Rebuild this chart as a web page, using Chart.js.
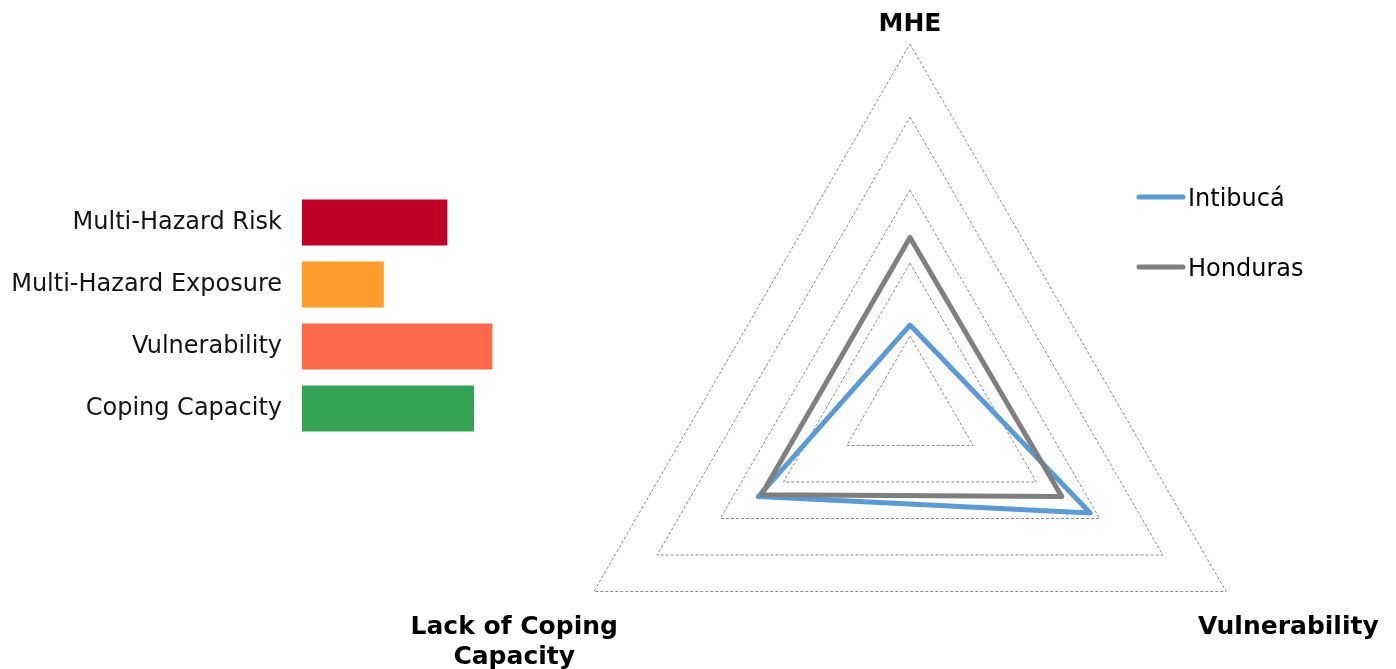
<!DOCTYPE html>
<html>
<head>
<meta charset="utf-8">
<title>Intibucá - perfil de riesgo</title>
<script src="https://cdn.jsdelivr.net/npm/chart.js@4.4.0/dist/chart.umd.min.js"></script>
<style>
  html, body { margin: 0; overflow: hidden; background: #fff; }
  #barChart { position: absolute; left: 0; top: 157px; }
  #radarChart { position: absolute; left: 380px; top: 0; }
</style>
</head>
<body>
<canvas id="barChart" width="636" height="317"></canvas>
<canvas id="radarChart" width="1016" height="774"></canvas>

<script>
  // component scores, 0 - 10
  const componentNames = ['Multi-Hazard Risk', 'Multi-Hazard Exposure', 'Vulnerability', 'Coping Capacity']
  const componentScores = [4.35, 2.45, 5.7, 5.15]
  const componentColors = ['#be0027', '#ff9d2c', '#fd6a4b', '#34a354']

  // radar: MHE / Vulnerability / Lack of Coping Capacity
  const radarAxes = ['MHE', 'Vulnerability', ['Lack of Coping', 'Capacity']]
  const intibuca = [2.3, 5.7, 4.8]
  const honduras = [4.7, 4.8, 4.7]
  const radarMax = 10
  const radarStep = 2

  Chart.defaults.font.family = '"DejaVu Sans", Verdana, sans-serif'

  new Chart(document.getElementById('barChart'), {
    type: 'bar',
    data: {
      labels: componentNames,
      datasets: [{
        data: componentScores,
        backgroundColor: componentColors,
        barPercentage: 0.74,
        categoryPercentage: 1
      }]
    },
    options: {
      indexAxis: 'y',
      responsive: false,
      animation: false,
      events: [],
      plugins: { legend: { display: false }, tooltip: { enabled: false } },
      scales: {
        x: { display: false, min: 0, max: radarMax },
        y: {
          grid: { display: false, drawTicks: false },
          border: { display: false },
          ticks: { padding: 20, color: '#141414', font: { size: 24 } },
          afterFit: function (axis) { axis.width = 302 }
        }
      }
    }
  })

  // excel-like axis titles and legend, drawn around the radar scale
  const excelLabels = {
    id: 'excelLabels',
    afterDraw(chart) {
      const ctx = chart.ctx
      const r = chart.scales.r
      ctx.save()
      ctx.fillStyle = '#000'
      ctx.font = 'bold 25px "DejaVu Sans"'
      ctx.textAlign = 'center'
      chart.data.labels.forEach((label, i) => {
        const lines = [].concat(label)
        const p = r.getPointPosition(i, r.drawingArea)
        const w = Math.max(...lines.map(l => ctx.measureText(l).width))
        let x = p.x
        let y = p.y - 13
        if (p.x > r.xCenter + 1) {
          x = p.x - 28 + w / 2
          y = p.y + 42
        } else if (p.x < r.xCenter - 1) {
          x = p.x + 24 - w / 2
          y = p.y + 42
        }
        lines.forEach((line, j) => ctx.fillText(line, x, y + j * 30))
      })

      ctx.font = '24px "DejaVu Sans"'
      ctx.textAlign = 'left'
      ctx.lineWidth = 5
      ctx.lineCap = 'round'
      chart.data.datasets.forEach((ds, i) => {
        const y = 197 + i * 70
        ctx.strokeStyle = ds.borderColor
        ctx.beginPath()
        ctx.moveTo(759, y)
        ctx.lineTo(803, y)
        ctx.stroke()
        ctx.fillText(ds.label, 808, y + 8.5)
      })
      ctx.restore()
    }
  }

  new Chart(document.getElementById('radarChart'), {
    type: 'radar',
    data: {
      labels: radarAxes,
      datasets: [
        { label: 'Intibucá', data: intibuca, borderColor: '#5b9bd5', backgroundColor: 'transparent', order: 2 },
        { label: 'Honduras', data: honduras, borderColor: '#7f7f7f', backgroundColor: 'transparent', order: 1 }
      ]
    },
    options: {
      responsive: false,
      animation: false,
      events: [],
      layout: { padding: { left: 44, top: 44 } },
      elements: {
        line: { borderWidth: 5, fill: false, tension: 0, borderJoinStyle: 'round', borderCapStyle: 'round' },
        point: { radius: 0 }
      },
      plugins: { legend: { display: false }, tooltip: { enabled: false } },
      scales: {
        r: {
          min: 0,
          max: radarMax,
          ticks: { display: false, stepSize: radarStep },
          pointLabels: { display: false },
          angleLines: { display: false },
          grid: { color: '#8a8a8a', lineWidth: 1 },
          border: { dash: [3, 2] }
        }
      }
    },
    plugins: [excelLabels]
  })
</script>
</body>
</html>
